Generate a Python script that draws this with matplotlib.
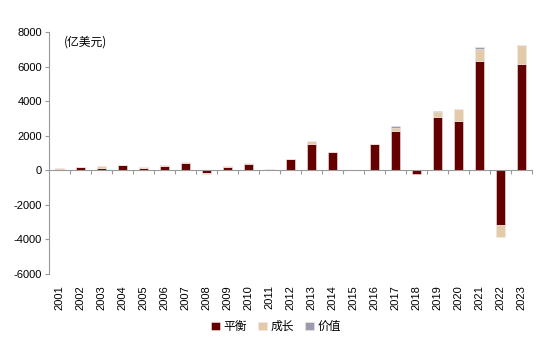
import matplotlib
matplotlib.use("Agg")
import matplotlib.pyplot as plt
import numpy as np

years = [str(y) for y in range(2001, 2024)]
balance = [100, 170, 150, 310, 130, 270, 430, -130, 170, 370, 10, 640, 1530, 1060, 0, 1520, 2280, -200, 3110, 2840, 6330, -3150, 6180]
growth = [40, 40, 120, 20, 40, 20, 70, -100, 100, 50, 60, 30, 150, 30, 40, 20, 170, 0, 290, 710, 680, -700, 1070]
value = [0, 0, 0, 0, 0, 0, 0, 0, 0, 0, 0, 0, 20, 0, 0, 0, 100, 0, 60, 0, 110, 0, 0]
series_names = ["平衡", "成长", "价值"]
colors = ["#640000", "#E2CBA8", "#9A9CAE"]
yticks = [-6000, -4000, -2000, 0, 2000, 4000, 6000, 8000]

plt.rcParams['font.family'] = ['Liberation Sans', 'Noto Sans CJK SC', 'DejaVu Sans']

fig = plt.figure(figsize=(5.52, 3.57), dpi=100)
ax = fig.add_axes([0.0888, 0.2325, 0.875, 0.6775])

x = np.arange(len(years))
pos_bottom = np.zeros(len(years))
neg_bottom = np.zeros(len(years))
for vals, name, c in zip([balance, growth, value], series_names, colors):
    v = np.array(vals, dtype=float)
    bottom = np.where(v >= 0, pos_bottom, neg_bottom)
    ax.bar(x, v, width=0.42, bottom=bottom, color=c, edgecolor='#f3e6e6', linewidth=0.4, label=name)
    pos_bottom = pos_bottom + np.where(v >= 0, v, 0)
    neg_bottom = neg_bottom + np.where(v < 0, v, 0)

ax.set_xlim(-0.5, len(years) - 0.5)
ax.set_ylim(-6000, 8000)
ax.set_yticks(yticks)
ax.set_yticklabels([str(t) for t in yticks], fontsize=8)
ax.tick_params(axis='y', length=3, color='#999999', width=0.8, pad=2)

for s in ['top', 'right']:
    ax.spines[s].set_visible(False)
ax.spines['left'].set_color('#999999')
ax.spines['bottom'].set_color('#999999')
ax.spines['bottom'].set_position(('data', 0))
ax.set_xticks(np.arange(0.5, len(years), 1.0))
ax.set_xticklabels([])
ax.tick_params(axis='x', length=3, color='#999999', width=0.8, direction='out')

sec = ax.secondary_xaxis('bottom')
sec.set_xticks(x)
sec.set_xticklabels(years, rotation=90, fontsize=8)
sec.tick_params(length=0, pad=8)
sec.spines['bottom'].set_visible(False)

ax.text(0.03, 0.985, "(亿美元)", transform=ax.transAxes, fontsize=8.5,
        va='top', ha='left', family=['Noto Sans CJK SC', 'DejaVu Sans'])

handles, labels = ax.get_legend_handles_labels()
leg = fig.legend(handles, labels, loc='center', bbox_to_anchor=(0.5, 0.085), ncol=3,
                 frameon=False, handlelength=0.7, handleheight=0.7, handletextpad=0.3,
                 columnspacing=1.0, prop={'family': ['Noto Sans CJK SC', 'DejaVu Sans'], 'size': 8.5})

fig.savefig("out.png", dpi=100)
